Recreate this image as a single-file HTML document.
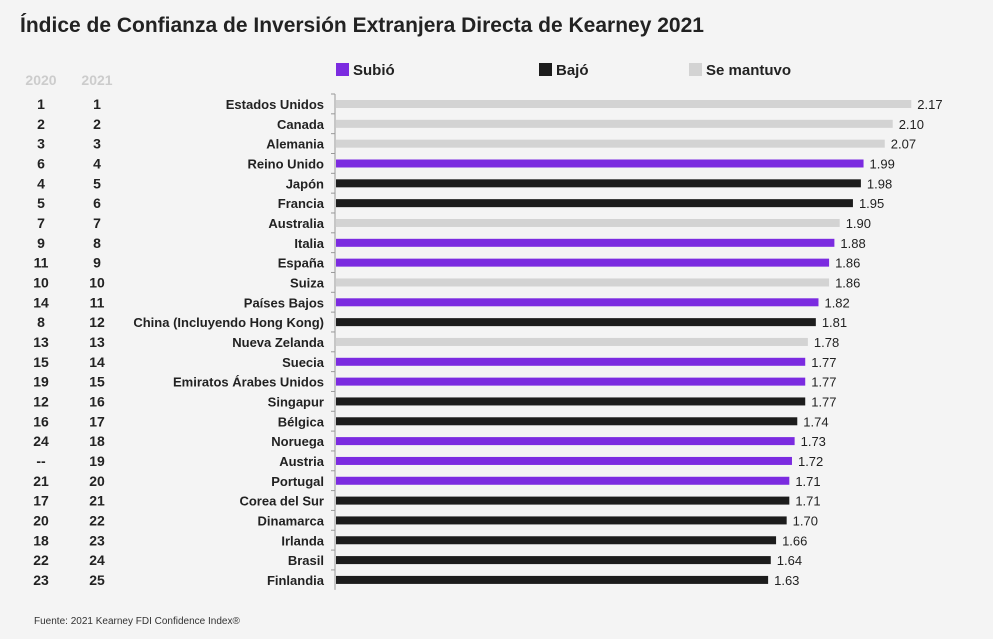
<!DOCTYPE html>
<html><head><meta charset="utf-8"><style>
body{margin:0;background:#f4f4f4;font-family:"Liberation Sans",Arial,sans-serif}
svg{display:block}
</style></head><body>
<svg id="c" width="993" height="639" style="background:#f4f4f4">
<text x="20" y="32" font-size="21" font-weight="bold" fill="#222">Índice de Confianza de Inversión Extranjera Directa de Kearney 2021</text>
<g font-size="15" font-weight="bold" fill="#222">
<rect x="336" y="63" width="13" height="13" fill="#7b2be0"/>
<text x="353" y="75">Subió</text>
<rect x="539" y="63" width="13" height="13" fill="#1c1c1c"/>
<text x="556" y="75">Bajó</text>
<rect x="689" y="63" width="13" height="13" fill="#d3d3d3"/>
<text x="706" y="75">Se mantuvo</text>
</g>
<text x="41" y="85" font-size="14" font-weight="bold" fill="#ccc" text-anchor="middle">2020</text>
<text x="97" y="85" font-size="14" font-weight="bold" fill="#ccc" text-anchor="middle">2021</text>
<g id="rows"></g>
<text x="34" y="624" font-size="10" fill="#333">Fuente: 2021 Kearney FDI Confidence Index®</text>
</svg>
<script>
const countries=["Estados Unidos","Canada","Alemania","Reino Unido","Japón","Francia","Australia","Italia","España","Suiza","Países Bajos","China (Incluyendo Hong Kong)","Nueva Zelanda","Suecia","Emiratos Árabes Unidos","Singapur","Bélgica","Noruega","Austria","Portugal","Corea del Sur","Dinamarca","Irlanda","Brasil","Finlandia"];
const values=[2.17,2.10,2.07,1.99,1.98,1.95,1.90,1.88,1.86,1.86,1.82,1.81,1.78,1.77,1.77,1.77,1.74,1.73,1.72,1.71,1.71,1.70,1.66,1.64,1.63];
const rank2020=["1","2","3","6","4","5","7","9","11","10","14","8","13","15","19","12","16","24","--","21","17","20","18","22","23"];
const rank2021=["1","2","3","4","5","6","7","8","9","10","11","12","13","14","15","16","17","18","19","20","21","22","23","24","25"];
const status=["m","m","m","s","b","b","m","s","s","m","s","b","m","s","s","b","b","s","s","s","b","b","b","b","b"];
const colors={s:"#7b2be0",b:"#1c1c1c",m:"#d3d3d3"};
const NS="http://www.w3.org/2000/svg";
const g=document.getElementById('rows');
const x0=336,scale=265.1,y0=104,step=19.83,bh=8;
const xs=v=>x0+v*scale, ys=i=>y0+i*step;
function el(t,a){const e=document.createElementNS(NS,t);for(const k in a)e.setAttribute(k,a[k]);g.appendChild(e);return e;}
const ax=el('line',{x1:335,x2:335,y1:ys(0)-10,y2:ys(24)+10,stroke:'#999','stroke-width':1});


countries.forEach((c,i)=>{
  const y=ys(i);
  const tk=el('line',{x1:331,x2:335,y1:y-10,y2:y-10,stroke:'#999'});
  
  
  const r=el('rect',{x:x0,y:y-bh/2,width:xs(values[i])-x0,height:bh,fill:colors[status[i]]});
  
  
  const l=el('text',{x:324,y:y+5,'font-size':13,'font-weight':'bold',fill:'#222','text-anchor':'end'});l.textContent=c;
  
  
  const v=el('text',{x:xs(values[i])+6,y:y+5,'font-size':13,fill:'#222'});v.textContent=values[i].toFixed(2);
  
  
  const a=el('text',{x:41,y:y+5,'font-size':14,'font-weight':'bold',fill:'#222','text-anchor':'middle'});a.textContent=rank2020[i];
  
  
  const b=el('text',{x:97,y:y+5,'font-size':14,'font-weight':'bold',fill:'#222','text-anchor':'middle'});b.textContent=rank2021[i];
  
  
});
</script>
</body></html>
